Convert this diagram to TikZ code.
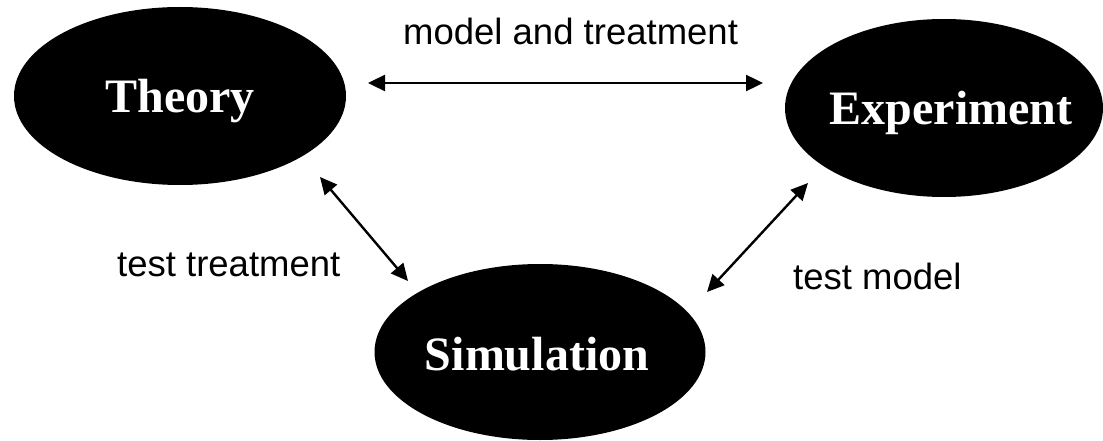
\documentclass[tikz,border=0pt]{standalone}
\usepackage{fontspec}
\setmainfont{Liberation Serif}
\newfontfamily\labelfont{Liberation Sans}
\usetikzlibrary{shapes.geometric,arrows.meta}
\tikzset{
  blob/.style={ellipse, fill=black, inner sep=0pt},
  blobtext/.style={text=white, font=\fontsize{48}{50}\selectfont\bfseries, anchor=base, inner sep=0pt},
  lbl/.style={font=\labelfont\fontsize{36.5}{38}\selectfont, anchor=base west, inner sep=0pt},
  link/.style={line width=2.4pt, {Triangle[length=17pt,width=16pt]}-{Triangle[length=17pt,width=16pt]}}
}
\begin{document}
\begin{tikzpicture}[x=1pt,y=-1pt]
\useasboundingbox (0,0) rectangle (1103,441);
\node[blob, minimum width=332pt, minimum height=178pt] (theory) at (180,96) {};
\node[blob, minimum width=318pt, minimum height=178pt] (experiment) at (944,108) {};
\node[blob, minimum width=331pt, minimum height=176pt] (simulation) at (540,352) {};
\node[blobtext] (theoryT) at (180,113) {Theory};
\node[blobtext] (experimentT) at (951,125) {Experiment};
\node[blobtext] (simulationT) at (537,370) {Simulation};
\node[lbl] (l1) at (403,45) {model and treatment};
\node[lbl] (l2) at (117,276) {test treatment};
\node[lbl] (l3) at (793,289) {test model};
\coordinate (a1) at (368,83);
\coordinate (a2) at (763,83);
\coordinate (b1) at (320,177);
\coordinate (b2) at (408,281);
\coordinate (c1) at (707,292);
\coordinate (c2) at (808,183);
\draw[link] (a1) -- (a2);
\draw[link] (b1) -- (b2);
\draw[link] (c1) -- (c2);
\end{tikzpicture}
\end{document}
